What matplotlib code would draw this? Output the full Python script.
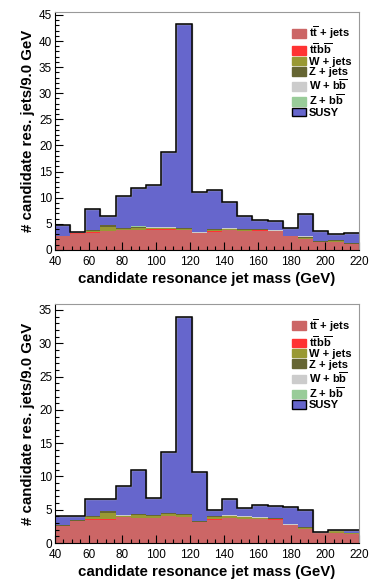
import numpy as np
import matplotlib
matplotlib.use("Agg")
import matplotlib.pyplot as plt
from matplotlib.patches import Patch

plt.rcParams['font.family'] = ['Liberation Sans', 'DejaVu Sans']
plt.rcParams['mathtext.fontset'] = 'custom'
plt.rcParams['mathtext.rm'] = 'Liberation Sans:bold'
plt.rcParams['mathtext.bf'] = 'Liberation Sans:bold'
plt.rcParams['mathtext.it'] = 'Liberation Sans:bold'

# 20 bins of 9 GeV between 40 and 220 GeV
edges = np.arange(40, 221, 9)

# top panel
top_ttjets = [2.6, 3.1, 3.3, 3.6, 3.8, 3.9, 3.9, 3.9, 3.8, 3.2, 3.5, 3.8, 3.6, 3.7, 3.6, 2.6, 2.0, 1.6, 1.5, 1.2]
top_ttbb   = [0, 0.15, 0.05, 0.1, 0.1, 0, 0.05, 0.05, 0, 0, 0.05, 0.05, 0, 0.05, 0, 0, 0.05, 0, 0.05, 0]
top_wjets  = [0, 0, 0.3, 0.7, 0.1, 0.3, 0.2, 0.2, 0.2, 0, 0.3, 0.1, 0.3, 0.1, 0, 0, 0.3, 0, 0.2, 0]
top_zjets  = [0.1, 0.1, 0.2, 0.3, 0.1, 0.1, 0.1, 0.1, 0.1, 0.1, 0.1, 0.1, 0.1, 0.1, 0.1, 0.1, 0.2, 0.1, 0.1, 0.1]
top_wbb    = [0.05] * 20
top_zbb    = [0, 0, 0, 0, 0, 0.15, 0, 0.15, 0, 0, 0, 0, 0, 0, 0, 0, 0, 0, 0, 0]
top_susy   = [1.95, 0.1, 3.9, 1.65, 6.15, 7.4, 8.1, 14.25, 39.15, 7.75, 7.4, 5.0, 2.35, 1.7, 1.75, 1.35, 4.3, 1.85, 1.1, 1.85]

# bottom panel
bot_ttjets = [2.6, 3.25, 3.5, 3.5, 3.85, 3.8, 3.75, 4.0, 3.85, 3.2, 3.5, 3.7, 3.6, 3.6, 3.5, 2.7, 2.1, 1.5, 1.5, 1.35]
bot_ttbb   = [0, 0, 0.05, 0.05, 0.05, 0, 0.05, 0, 0.05, 0, 0.05, 0, 0.05, 0, 0.05, 0, 0, 0, 0, 0]
bot_wjets  = [0, 0.1, 0.3, 0.9, 0.1, 0.4, 0.3, 0.3, 0.3, 0, 0.3, 0.3, 0.2, 0.1, 0.1, 0, 0.2, 0, 0.25, 0.1]
bot_zjets  = [0.1, 0.1, 0.15, 0.3, 0.1, 0.15, 0.1, 0.15, 0.1, 0.1, 0.15, 0.1, 0.1, 0.1, 0.1, 0.05, 0.1, 0.05, 0.1, 0.05]
bot_wbb    = [0.05] * 20
bot_zbb    = [0] * 20
bot_susy   = [1.25, 0.5, 2.55, 1.8, 4.35, 6.6, 2.45, 9.1, 29.65, 7.3, 0.95, 2.5, 1.2, 1.9, 1.75, 2.6, 2.5, 0.0, 0.0, 0.4]

labels = [r'$\mathbf{t\overline{t}}$ + jets', r'$\mathbf{t\overline{t}b\overline{b}}$', 'W + jets', 'Z + jets',
          r'W + $\mathbf{b\overline{b}}$', r'Z + $\mathbf{b\overline{b}}$', 'SUSY']
colors = ['#cc6666', '#ff3333', '#999933', '#666633', '#cccccc', '#99cc99', '#6666cc']


def draw_panel(ax, series, ymax, yticks):
    base = np.zeros(len(edges) - 1)
    for vals, col in zip(series, colors):
        vals = np.asarray(vals, dtype=float)
        ax.stairs(base + vals, edges, baseline=base, fill=True, color=col, lw=0)
        base = base + vals
    ax.stairs(base, edges, baseline=None, color='#aaaaaa', lw=1.0)
    ax.stairs(base, edges, baseline=None, color='black', lw=1.1)

    ax.set_xlim(40, 220)
    ax.set_ylim(0, ymax)
    ax.set_xticks(np.arange(40, 221, 20))
    ax.set_xticks(np.arange(40, 221, 5), minor=True)
    ax.set_yticks(yticks)
    ax.set_yticks(np.arange(0, ymax, 1), minor=True)
    ax.tick_params(which='both', direction='in', top=False, right=False, labelsize=8.5)
    ax.tick_params(axis='x', pad=4.5)
    ax.tick_params(axis='y', pad=2)
    ax.tick_params(which='major', length=6, width=0.8)
    ax.tick_params(which='minor', length=3, width=0.8)
    for s in ['top', 'right']:
        ax.spines[s].set_color('#999999')
    for s in ['left', 'bottom']:
        ax.spines[s].set_color('black')
    ax.set_xlabel('candidate resonance jet mass (GeV)', fontsize=10.8, fontweight='bold', labelpad=3)
    ax.set_ylabel('# candidate res. jets/9.0 GeV', fontsize=10.8, fontweight='bold', labelpad=3)

    handles = []
    for i, col in enumerate(colors):
        ec = 'black' if i == len(colors) - 1 else col
        handles.append(Patch(facecolor=col, edgecolor=ec, lw=1.0))
    ax.legend(handles, labels, loc='upper left', bbox_to_anchor=(0.765, 0.965),
              frameon=False, prop={'weight': 'bold', 'size': 8},
              handlelength=1.25, handleheight=0.8, handletextpad=0.3,
              labelspacing=0.03, borderaxespad=0)


fig = plt.figure(figsize=(3.81, 5.88), dpi=100)
ax1 = fig.add_axes([0.144, 0.575, 0.798, 0.405])
ax2 = fig.add_axes([0.144, 0.0765, 0.798, 0.4065])

draw_panel(ax1, [top_ttjets, top_ttbb, top_wjets, top_zjets, top_wbb, top_zbb, top_susy],
           45.6, np.arange(0, 46, 5))
draw_panel(ax2, [bot_ttjets, bot_ttbb, bot_wjets, bot_zjets, bot_wbb, bot_zbb, bot_susy],
           35.9, np.arange(0, 36, 5))

fig.savefig('out.png', dpi=100)
